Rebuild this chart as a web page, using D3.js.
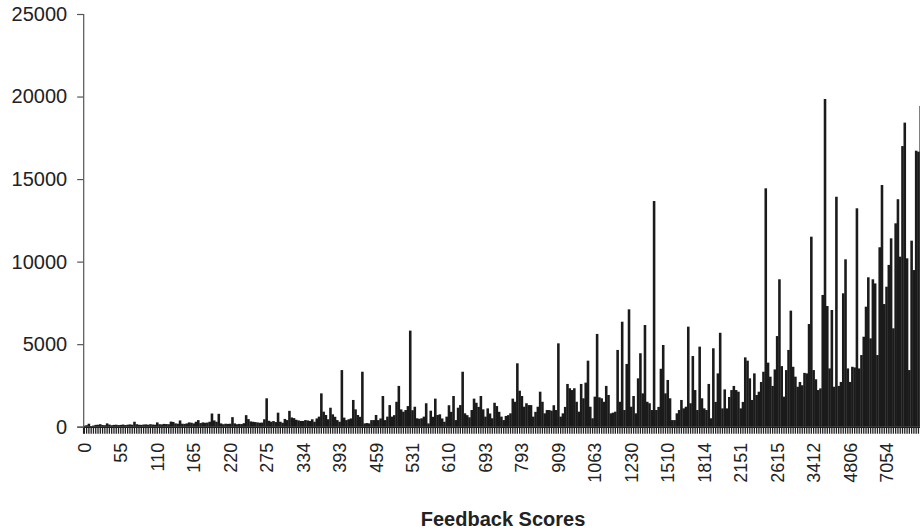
<!DOCTYPE html>
<html>
<head>
<meta charset="utf-8">
<script src="https://cdn.jsdelivr.net/npm/d3@7"></script>
<style>
  body { margin: 0; background: #fff; }
  svg { display: block; font-family: "Liberation Sans", Arial, sans-serif; }
</style>
</head>
<body>
<svg id="chart" width="920" height="532"></svg>
<script>
// Tick labels under the category axis (one every 16 bars)
var tickLabels = ["0", "55", "110", "165", "220", "275", "334", "393", "459", "531", "610",
  "693", "793", "909", "1063", "1230", "1510", "1814", "2151", "2615", "3412", "4806", "7054"];
var barsPerLabel = 16;

// Bar heights, one row per label interval
var counts = [
  60, 90, 180, 40, 70, 110, 120, 150, 100, 90, 200, 130, 90, 110, 120, 100,
  110, 130, 100, 120, 140, 120, 300, 150, 120, 110, 130, 140, 120, 150, 130, 120,
  260, 150, 140, 170, 160, 150, 310, 290, 200, 180, 380, 180, 170, 200, 260, 240,
  200, 300, 400, 220, 260, 240, 250, 300, 800, 380, 300, 780, 200, 150, 180, 170,
  180, 580, 200, 150, 170, 160, 210, 700, 460, 320, 300, 280, 260, 240, 250, 450,
  1720, 360, 300, 340, 280, 850, 300, 240, 470, 400, 960, 560, 520, 420, 380, 350,
  350, 400, 380, 350, 450, 300, 500, 610, 2020, 910, 710, 450, 1150, 750, 600, 400,
  300, 3430, 550, 400, 450, 500, 1620, 1050, 710, 600, 3330, 200, 220, 200, 400, 400,
  710, 400, 500, 1860, 400, 610, 1310, 610, 700, 1510, 2470, 1050, 910, 1010, 1250, 5820,
  1000, 1210, 510, 480, 510, 610, 1420, 200, 970, 600, 1700, 710, 750, 500, 300, 610,
  1300, 900, 1860, 400, 1150, 1310, 3330, 810, 700, 570, 1010, 1700, 1450, 1200, 1860, 1050,
  610, 1110, 800, 510, 1450, 1250, 900, 610, 400, 650, 700, 810, 1700, 1510, 3840, 2180,
  1860, 1210, 1420, 1310, 1310, 610, 900, 1210, 2120, 1510, 810, 1010, 1010, 970, 1300, 1010,
  5050, 610, 810, 1200, 2590, 2330, 2220, 2330, 1510, 910, 2590, 1720, 2670, 4000, 1210, 510,
  1820, 5620, 1780, 1720, 1510, 2470, 1920, 810, 850, 910, 4650, 1510, 6360, 1010, 3800, 7110,
  1210, 1860, 810, 2930, 4450, 2020, 6160, 1510, 1420, 1010, 13670, 1010, 1200, 3510, 4950, 2020,
  2830, 1720, 400, 400, 810, 1010, 1620, 1110, 1210, 6060, 1420, 4280, 2220, 1010, 4850, 1720,
  1110, 1010, 2590, 510, 4750, 1500, 3230, 5690, 1110, 2260, 1110, 1800, 2220, 2470, 2220, 2120,
  1110, 1500, 4200, 4000, 2930, 1620, 3230, 1920, 2120, 2710, 3330, 14440, 3880, 3030, 2470, 3470,
  5490, 8930, 3670, 1820, 3430, 4650, 7030, 3630, 3030, 2420, 2710, 2510, 3260, 3230, 6220, 11510,
  3430, 2870, 2220, 2320, 7980, 19850, 7310, 3530, 7070, 2420, 13930, 2470, 2710, 8080, 10140, 3530,
  2710, 3630, 3590, 13230, 3530, 4340, 5450, 7270, 9050, 5350, 8930, 8680, 4340, 10870, 14640, 7430,
  8480, 9800, 11410, 5960, 12320, 13780, 10300, 17000, 18420, 10200, 3430, 11270, 9490, 16720, 16660, 19430
];

var yTicks = [0, 5000, 10000, 15000, 20000, 25000];

(function() {
  var svg = d3.select("#chart");
  var plotLeft = 83.2, plotTop = 14, baseY = 426.7;
  var band = 2.279;

  var x = d3.scaleBand()
    .domain(d3.range(counts.length))
    .range([plotLeft, plotLeft + counts.length * band])
    .paddingInner(0);

  var y = d3.scaleLinear()
    .domain([0, 25000])
    .range([baseY, plotTop]);

  // bars (slightly wider than the band so the low mass reads as solid, like the original)
  svg.append("g")
    .selectAll("rect")
    .data(counts)
    .join("rect")
    .attr("x", function(d, i) { return x(i) - 0.15; })
    .attr("y", function(d) { return y(d); })
    .attr("width", x.bandwidth() + 0.3)
    .attr("height", function(d) { return baseY - y(d); })
    .attr("fill", "#1b1b1b");

  // x axis: a tick under every category, label on every 16th
  var xAxis = d3.axisBottom(x)
    .tickSize(7)
    .tickFormat(function(i) { return i % barsPerLabel === 0 ? tickLabels[i / barsPerLabel] : ""; });

  var gx = svg.append("g")
    .attr("transform", "translate(0," + baseY + ")")
    .call(xAxis);
  gx.select(".domain").attr("stroke", "#222").attr("stroke-width", 1.5);
  gx.selectAll(".tick line").attr("stroke", "#1e1e1e").attr("stroke-width", 1.3);
  gx.selectAll(".tick text")
    .attr("transform", "rotate(-90)")
    .attr("text-anchor", "end")
    .attr("x", -16)
    .attr("y", 0)
    .attr("dy", "0.36em")
    .attr("font-size", 18)
    .attr("fill", "#222");

  // y axis
  var gy = svg.append("g")
    .attr("transform", "translate(" + plotLeft + ",0)")
    .call(d3.axisLeft(y).tickValues(yTicks).tickSize(6).tickPadding(10).tickFormat(d3.format("d")));
  gy.select(".domain").attr("stroke", "#555").attr("stroke-width", 1.2);
  gy.selectAll(".tick line").attr("stroke", "#555").attr("stroke-width", 1.2);
  gy.selectAll(".tick text").attr("font-size", 20).attr("fill", "#222");

  // axis title
  svg.append("text")
    .attr("x", 503)
    .attr("y", 526)
    .attr("text-anchor", "middle")
    .attr("font-size", 20)
    .attr("font-weight", "bold")
    .attr("fill", "#222")
    .text("Feedback Scores");
})();
</script>
</body>
</html>
